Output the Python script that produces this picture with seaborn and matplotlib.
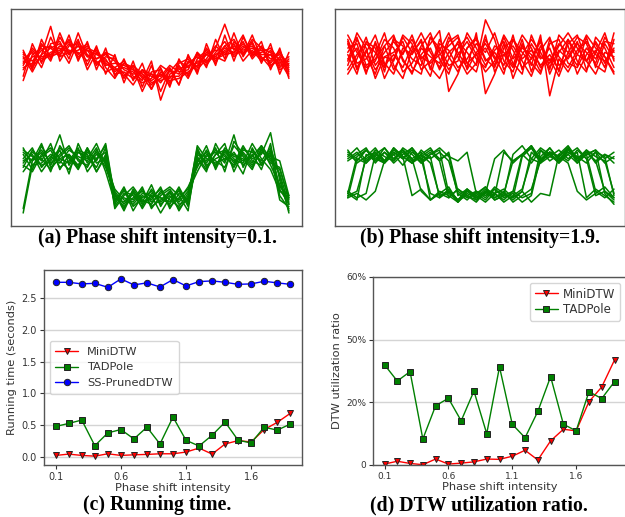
import numpy as np
import pandas as pd
import matplotlib
matplotlib.use("Agg")
import matplotlib.pyplot as plt
import seaborn as sns

# ---- data ----
# top panels: hand-read series on a 0..100 vertical scale, 30 samples each
a_red = [
    [81, 72, 86, 77, 89, 79, 86, 74, 83, 70, 79, 66, 76, 64, 74, 62, 72, 65, 79, 70, 84, 74, 88, 76, 87, 79, 85, 72, 82, 68],
    [69, 84, 75, 87, 78, 88, 76, 85, 72, 82, 69, 77, 67, 75, 63, 73, 64, 77, 69, 80, 73, 86, 77, 89, 78, 85, 75, 84, 70, 80],
    [77, 80, 73, 84, 85, 77, 89, 78, 81, 73, 68, 75, 73, 62, 71, 72, 66, 74, 68, 77, 81, 75, 83, 86, 79, 88, 77, 76, 81, 71],
    [73, 75, 84, 78, 80, 86, 79, 83, 77, 79, 76, 70, 65, 72, 66, 68, 73, 65, 76, 72, 77, 83, 79, 80, 85, 77, 82, 80, 73, 77],
    [78, 71, 79, 92, 76, 83, 84, 72, 80, 75, 72, 73, 71, 67, 76, 58, 70, 72, 75, 78, 74, 80, 85, 78, 82, 84, 78, 73, 78, 70],
    [67, 79, 82, 76, 87, 80, 81, 84, 74, 80, 78, 68, 74, 70, 65, 70, 67, 68, 71, 74, 79, 77, 79, 84, 76, 81, 76, 81, 74, 76],
    [75, 82, 77, 80, 82, 75, 85, 79, 76, 71, 73, 76, 69, 66, 68, 74, 71, 76, 73, 79, 75, 82, 93, 81, 88, 78, 83, 74, 77, 72],
    [79, 76, 81, 83, 79, 84, 78, 81, 79, 77, 70, 71, 68, 72, 70, 66, 72, 70, 78, 73, 80, 78, 76, 85, 80, 82, 79, 79, 75, 78],
    [72, 78, 78, 79, 83, 81, 80, 76, 82, 74, 75, 74, 72, 69, 63, 71, 68, 73, 70, 76, 76, 79, 82, 80, 84, 80, 81, 77, 79, 73],
    [76, 74, 83, 82, 84, 79, 83, 81, 75, 78, 77, 72, 70, 71, 69, 67, 69, 69, 74, 75, 79, 81, 80, 83, 81, 83, 77, 79, 72, 75],
    [74, 81, 76, 79, 81, 85, 77, 82, 80, 76, 73, 69, 74, 68, 70, 69, 74, 71, 72, 80, 76, 78, 83, 79, 83, 79, 80, 82, 76, 69],
    [80, 73, 79, 82, 78, 80, 83, 78, 77, 80, 71, 75, 72, 70, 67, 70, 65, 75, 77, 71, 82, 76, 81, 82, 79, 86, 82, 75, 80, 74],
]
a_green = [
    [33, 26, 37, 28, 35, 24, 38, 29, 34, 27, 15, 8, 17, 11, 19, 9, 16, 7, 14, 36, 27, 33, 38, 25, 34, 29, 37, 31, 24, 10],
    [27, 35, 30, 38, 26, 33, 28, 36, 25, 33, 10, 17, 7, 14, 12, 18, 8, 15, 12, 29, 37, 26, 35, 31, 24, 36, 28, 34, 18, 14],
    [8, 30, 34, 25, 37, 31, 27, 35, 30, 38, 13, 11, 16, 8, 15, 13, 10, 17, 9, 31, 25, 38, 30, 34, 28, 33, 26, 38, 14, 8],
    [36, 28, 32, 35, 27, 30, 36, 25, 31, 34, 9, 15, 12, 18, 8, 14, 17, 11, 16, 25, 33, 30, 27, 37, 32, 27, 35, 29, 27, 12],
    [30, 33, 25, 31, 42, 28, 34, 31, 38, 28, 17, 12, 10, 15, 14, 6, 13, 16, 11, 34, 29, 35, 32, 28, 36, 31, 33, 43, 21, 7],
    [25, 31, 35, 29, 33, 37, 30, 28, 33, 30, 12, 16, 14, 9, 17, 11, 15, 12, 18, 27, 35, 28, 34, 30, 29, 38, 31, 26, 16, 13],
    [6, 28, 29, 33, 30, 26, 34, 32, 27, 36, 8, 14, 18, 12, 10, 16, 12, 9, 15, 33, 30, 36, 25, 39, 33, 28, 34, 32, 30, 14],
    [34, 30, 38, 27, 31, 33, 27, 36, 29, 31, 14, 9, 13, 16, 11, 15, 18, 14, 7, 35, 28, 31, 33, 27, 35, 34, 30, 36, 23, 6],
    [31, 36, 27, 32, 29, 35, 32, 30, 36, 25, 11, 18, 9, 13, 16, 10, 14, 8, 13, 30, 34, 27, 36, 32, 31, 26, 36, 28, 19, 11],
    [28, 25, 33, 36, 31, 29, 35, 33, 25, 32, 16, 10, 15, 11, 13, 17, 9, 13, 17, 28, 32, 34, 29, 42, 27, 35, 29, 33, 12, 9],
    [35, 32, 28, 30, 36, 32, 26, 34, 31, 37, 12, 13, 11, 17, 9, 12, 16, 10, 12, 37, 31, 29, 31, 33, 30, 32, 37, 30, 26, 13],
    [29, 34, 31, 26, 32, 36, 31, 27, 35, 29, 15, 7, 16, 10, 14, 13, 11, 18, 10, 32, 26, 33, 35, 29, 37, 30, 28, 35, 17, 10],
]
b_red = [
    [84, 72, 80, 88, 75, 70, 82, 79, 86, 73, 68, 77, 85, 80, 74, 88, 71, 79, 83, 76, 69, 81, 87, 74, 78, 85, 72, 80, 89, 76],
    [74, 86, 78, 70, 83, 88, 76, 71, 79, 84, 90, 62, 70, 82, 87, 77, 73, 84, 68, 79, 86, 80, 72, 88, 83, 70, 79, 84, 75, 81],
    [79, 70, 85, 82, 68, 77, 88, 84, 72, 76, 81, 89, 78, 70, 75, 95, 86, 72, 78, 88, 82, 73, 77, 69, 80, 87, 84, 74, 71, 86],
    [88, 80, 73, 76, 86, 82, 71, 75, 83, 89, 77, 70, 82, 87, 79, 71, 76, 88, 81, 73, 77, 85, 70, 80, 86, 76, 71, 87, 82, 73],
    [70, 77, 87, 74, 80, 85, 79, 88, 76, 69, 84, 81, 73, 77, 84, 80, 89, 76, 71, 84, 74, 88, 60, 77, 71, 79, 88, 82, 78, 70],
    [82, 84, 71, 79, 89, 74, 68, 81, 89, 80, 73, 85, 88, 75, 71, 86, 78, 70, 86, 80, 75, 70, 84, 86, 75, 73, 82, 77, 85, 84],
    [76, 89, 82, 68, 78, 80, 85, 73, 70, 87, 82, 74, 76, 89, 82, 74, 81, 85, 75, 70, 88, 78, 75, 83, 89, 82, 76, 70, 80, 78],
    [86, 75, 77, 84, 71, 87, 77, 70, 82, 78, 75, 87, 80, 73, 89, 61, 70, 82, 86, 77, 81, 74, 79, 72, 84, 88, 76, 81, 73, 89],
    [80, 87, 74, 77, 83, 72, 80, 86, 77, 82, 72, 80, 84, 75, 79, 82, 74, 87, 77, 82, 79, 71, 86, 78, 73, 81, 85, 79, 76, 82],
    [72, 79, 84, 80, 73, 86, 83, 77, 74, 87, 80, 72, 79, 85, 77, 73, 83, 80, 74, 86, 71, 83, 76, 84, 80, 74, 87, 73, 84, 77],
    [85, 73, 81, 72, 78, 76, 87, 80, 85, 72, 86, 78, 71, 82, 86, 76, 80, 74, 88, 72, 84, 77, 82, 71, 86, 79, 76, 85, 78, 71],
    [77, 82, 70, 85, 74, 79, 73, 83, 78, 75, 79, 83, 87, 72, 80, 84, 77, 79, 73, 83, 77, 86, 73, 81, 77, 84, 80, 75, 87, 80],
]
b_green = [
    [33, 30, 35, 31, 29, 36, 32, 14, 17, 12, 15, 18, 11, 16, 13, 15, 31, 35, 29, 33, 37, 30, 34, 32, 29, 16, 12, 15, 18, 13],
    [31, 34, 29, 33, 36, 30, 35, 31, 16, 12, 15, 13, 17, 14, 11, 16, 14, 34, 30, 33, 36, 29, 32, 35, 31, 34, 13, 17, 14, 11],
    [35, 29, 32, 36, 30, 33, 28, 34, 31, 15, 13, 17, 12, 14, 16, 13, 18, 15, 30, 33, 37, 31, 34, 29, 33, 36, 31, 14, 16, 12],
    [30, 33, 36, 29, 34, 31, 35, 30, 33, 29, 14, 16, 11, 15, 13, 17, 15, 12, 16, 33, 29, 35, 32, 30, 36, 31, 33, 35, 15, 10],
    [15, 32, 35, 30, 34, 29, 33, 36, 31, 34, 30, 13, 17, 14, 12, 16, 15, 11, 14, 17, 31, 36, 33, 30, 35, 32, 29, 34, 32, 14],
    [14, 16, 31, 34, 30, 35, 32, 29, 33, 36, 30, 34, 16, 13, 15, 18, 12, 14, 16, 13, 15, 35, 30, 33, 37, 31, 34, 30, 33, 29],
    [16, 13, 15, 33, 30, 36, 32, 29, 35, 31, 34, 30, 15, 12, 16, 14, 17, 13, 15, 11, 14, 32, 36, 30, 34, 31, 35, 29, 33, 31],
    [13, 15, 12, 16, 30, 34, 31, 35, 29, 33, 36, 32, 30, 34, 15, 12, 17, 14, 13, 16, 11, 15, 14, 33, 30, 35, 31, 34, 29, 32],
    [34, 31, 29, 35, 32, 30, 36, 33, 29, 32, 13, 16, 12, 17, 14, 11, 15, 17, 13, 32, 36, 30, 33, 29, 35, 31, 34, 30, 16, 13],
    [13, 30, 35, 32, 29, 34, 31, 36, 30, 33, 35, 15, 12, 16, 14, 18, 13, 15, 12, 16, 34, 30, 36, 31, 33, 29, 35, 32, 30, 15],
    [32, 36, 30, 34, 29, 33, 35, 31, 34, 12, 16, 14, 11, 17, 13, 16, 12, 14, 33, 37, 31, 29, 34, 32, 36, 30, 33, 16, 13, 17],
    [15, 12, 33, 30, 36, 31, 34, 29, 32, 35, 31, 33, 14, 17, 12, 15, 13, 16, 11, 14, 17, 30, 34, 32, 36, 29, 33, 35, 31, 34],
]

# bottom panels
intensity = [0.1, 0.2, 0.3, 0.4, 0.5, 0.6, 0.7, 0.8, 0.9, 1.0,
             1.1, 1.2, 1.3, 1.4, 1.5, 1.6, 1.7, 1.8, 1.9]
mini_time = [0.027, 0.048, 0.027, 0.016, 0.053, 0.027, 0.037, 0.043, 0.053, 0.053,
             0.080, 0.143, 0.048, 0.207, 0.260, 0.239, 0.434, 0.546, 0.688]
tad_time = [0.482, 0.530, 0.583, 0.180, 0.381, 0.434, 0.286, 0.471, 0.207, 0.630,
            0.265, 0.175, 0.344, 0.551, 0.265, 0.223, 0.471, 0.424, 0.519]
pruned_time = [2.746, 2.746, 2.721, 2.730, 2.667, 2.800, 2.705, 2.737, 2.673, 2.789,
               2.689, 2.757, 2.768, 2.746, 2.714, 2.721, 2.762, 2.737, 2.714]
mini_ratio = [0.3, 1.2, 0.5, 0.1, 1.9, 0.3, 0.6, 1.0, 1.9, 1.8,
              2.8, 4.7, 1.6, 7.7, 11.4, 10.9, 20.2, 24.9, 33.5]
tad_ratio = [32.0, 26.8, 29.8, 8.3, 18.9, 21.3, 14.1, 23.6, 10.0, 31.3,
             13.0, 8.7, 17.1, 28.2, 13.0, 10.9, 23.4, 21.2, 26.6]
ratio_ticks = [0, 20, 40, 60]
ratio_labels = ["0", "20%", "50%", "60%"]

# ---- style ----
sns.set_theme(style="whitegrid", rc={
    "axes.edgecolor": "#555555",
    "axes.linewidth": 1.0,
    "grid.color": "#d4d4d4",
    "grid.linewidth": 1.0,
    "text.color": "#333333",
    "axes.labelcolor": "#333333",
    "xtick.color": "#333333",
    "ytick.color": "#333333",
    "xtick.bottom": True,
    "ytick.left": True,
    "xtick.major.size": 3,
    "ytick.major.size": 3,
    "xtick.major.width": 0.8,
    "ytick.major.width": 0.8,
    "legend.edgecolor": "#cccccc",
})
plt.rcParams["font.family"] = ["DejaVu Sans"]

W, H = 625, 517
fig = plt.figure(figsize=(W / 100, H / 100), dpi=100)


def box(x0, y0, x1, y1):
    # pixel box -> figure fraction
    return [x0 / W, 1 - y1 / H, (x1 - x0) / W, (y1 - y0) / H]


def to_long(series):
    rows = []
    for k, s in enumerate(series):
        for i, v in enumerate(s):
            rows.append((k, i, v))
    return pd.DataFrame(rows, columns=["series", "idx", "value"])


def series_panel(ax, red, green, xlim):
    sns.lineplot(data=to_long(red), x="idx", y="value", units="series",
                 estimator=None, color="#ff0000", lw=1.1, ax=ax)
    sns.lineplot(data=to_long(green), x="idx", y="value", units="series",
                 estimator=None, color="#008000", lw=1.1, ax=ax)
    ax.set_xlim(*xlim)
    ax.set_ylim(0, 100)
    ax.set_xticks([])
    ax.set_yticks([])
    ax.set_xlabel("")
    ax.set_ylabel("")
    ax.grid(False)


ax_a = fig.add_axes(box(11, 9, 302, 226))
series_panel(ax_a, a_red, a_green, (-1.33, 30.43))
ax_b = fig.add_axes(box(335, 9, 625, 226))
series_panel(ax_b, b_red, b_green, (-1.39, 30.2))

cap = dict(family="Liberation Serif", fontweight="bold", fontsize=14.2,
           color="black", ha="center", va="center")
fig.text(157 / W, 1 - 238 / H, "(a) Phase shift intensity=0.1.", **cap)
fig.text(480 / W, 1 - 238 / H, "(b) Phase shift intensity=1.9.", **cap)
fig.text(157 / W, 1 - 505 / H, "(c) Running time.", **cap)
fig.text(479 / W, 1 - 505 / H, "(d) DTW utilization ratio.", **cap)

mk = dict(markersize=4.6, markeredgecolor="#222222", markeredgewidth=0.7, lw=1.0)

# (c) running time
ax_c = fig.add_axes(box(44, 270, 302, 465))
sns.lineplot(x=intensity, y=mini_time, color="#ff0000", marker="v", label="MiniDTW", ax=ax_c, **mk)
sns.lineplot(x=intensity, y=tad_time, color="#008000", marker="s", label="TADPole", ax=ax_c, **mk)
sns.lineplot(x=intensity, y=pruned_time, color="#0000ff", marker="o", label="SS-PrunedDTW", ax=ax_c, **mk)
ax_c.set_xticks([0.1, 0.6, 1.1, 1.6])
ax_c.set_xticklabels(["0.1", "0.6", "1.1", "1.6"])
ax_c.set_yticks([0.0, 0.5, 1.0, 1.5, 2.0, 2.5])
ax_c.grid(axis="x", visible=False)
ax_c.tick_params(labelsize=7, pad=2)
ax_c.set_xlabel("Phase shift intensity", fontsize=8.2, labelpad=1)
ax_c.set_ylabel("Running time (seconds)", fontsize=8.2, labelpad=3)
ax_c.legend(loc="center left", fontsize=8.2, frameon=True, borderpad=0.5)

# (d) utilization ratio
ax_d = fig.add_axes(box(373, 277, 626, 465))
sns.lineplot(x=intensity, y=mini_ratio, color="#ff0000", marker="v", label="MiniDTW", ax=ax_d, **mk)
sns.lineplot(x=intensity, y=tad_ratio, color="#008000", marker="s", label="TADPole", ax=ax_d, **mk)
ax_d.set_ylim(0, 60)
ax_d.set_yticks(ratio_ticks)
ax_d.set_yticklabels(ratio_labels)
ax_d.set_xticks([0.1, 0.6, 1.1, 1.6])
ax_d.set_xticklabels(["0.1", "0.6", "1.1", "1.6"])
ax_d.grid(axis="x", visible=False)
ax_d.tick_params(labelsize=6.5, pad=2)
ax_d.set_xlabel("Phase shift intensity", fontsize=8.2, labelpad=1)
ax_d.set_ylabel("DTW utilization ratio", fontsize=8.2, labelpad=3)
ax_d.legend(loc="upper right", fontsize=8.5, frameon=True, borderpad=0.4,
            handletextpad=0.4, labelspacing=0.2)

fig.savefig("out.png", dpi=100)
